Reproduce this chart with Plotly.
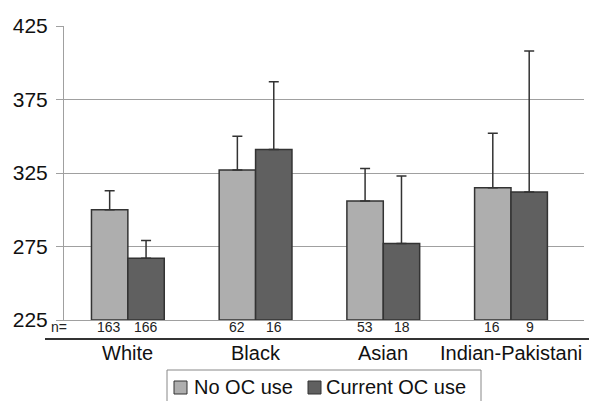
import plotly.graph_objects as go

categories = ["White", "Black", "Asian", "Indian-Pakistani"]
no_oc = [300, 327, 306, 315]
no_oc_err = [13, 23, 22, 37]
cur_oc = [267, 341, 277, 312]
cur_oc_err = [12, 46, 46, 96]
n_no_oc = ["163", "62", "53", "16"]
n_cur_oc = ["166", "16", "18", "9"]
y_ticks = [225, 275, 325, 375, 425]
series_names = ["No OC use", "Current OC use"]
series_colors = ["#aeaeae", "#606060"]

W, H = 589, 401
L, R, T, B = 64, 5, 26, 81
PW, PH = W - L - R, H - T - B

def px(x):
    return (x - L) / PW

def py(y):
    return (H - B - y) / PH

FONT = "Liberation Sans, Arial, sans-serif"

fig = go.Figure()
for name, vals, errs, col in [(series_names[0], no_oc, no_oc_err, series_colors[0]),
                              (series_names[1], cur_oc, cur_oc_err, series_colors[1])]:
    fig.add_trace(go.Bar(
        x=categories, y=[v - 225 for v in vals], base=225, name=name,
        marker=dict(color=col, line=dict(color="#333333", width=1.5)),
        error_y=dict(type="data", symmetric=False, array=errs,
                     arrayminus=[0] * len(errs), color="#333333",
                     thickness=1.5, width=5),
        showlegend=False,
    ))

bargap = 0.43
group_w = PW / len(categories)
bar_w = group_w * (1 - bargap) / 2

def ann(x, y, text, size, xref="paper", xshift=0, xanchor="center", color="#111"):
    return dict(x=x, y=y, xref=xref, yref="paper", text=text, showarrow=False,
                xshift=xshift, xanchor=xanchor, yanchor="middle",
                font=dict(size=size, color=color, family=FONT))

annotations = []
for i, c in enumerate(categories):
    annotations.append(ann(c, py(327), n_no_oc[i], 14, xref="x", xshift=-bar_w / 2, color="#222"))
    annotations.append(ann(c, py(327), n_cur_oc[i], 14, xref="x", xshift=bar_w / 2, color="#222"))
    annotations.append(ann(c, py(353), c, 20, xref="x"))
annotations.append(ann(px(59), py(327), "n=", 14, color="#222"))
annotations.append(ann(px(192), py(387), series_names[0], 20, xanchor="left"))
annotations.append(ann(px(324), py(387), series_names[1], 20, xanchor="left"))

shapes = [
    dict(type="line", xref="paper", yref="paper", x0=px(45), x1=px(589), y0=py(339), y1=py(339),
         line=dict(color="#333333", width=2)),
    dict(type="rect", xref="paper", yref="paper", x0=px(167), x1=px(481), y0=py(370), y1=py(405),
         line=dict(color="#888888", width=1), fillcolor="rgba(0,0,0,0)"),
    dict(type="rect", xref="paper", yref="paper", x0=px(174), x1=px(187), y0=py(381), y1=py(394),
         line=dict(color="#333333", width=1), fillcolor=series_colors[0]),
    dict(type="rect", xref="paper", yref="paper", x0=px(308), x1=px(321), y0=py(381), y1=py(394),
         line=dict(color="#333333", width=1), fillcolor=series_colors[1]),
]

fig.update_layout(
    width=W, height=H, margin=dict(l=L, r=R, t=T, b=B),
    paper_bgcolor="white", plot_bgcolor="white",
    barmode="group", bargap=bargap, bargroupgap=0,
    font=dict(family=FONT, color="#111"),
    xaxis=dict(showticklabels=False, ticks="", showgrid=False, showline=True,
               linecolor="#a0a0a0", linewidth=1),
    yaxis=dict(range=[225, 425], tickvals=y_ticks, ticks="outside", ticklen=7,
               tickcolor="#a0a0a0", tickwidth=1, showgrid=True,
               gridcolor="#a0a0a0", gridwidth=1, showline=True, linecolor="#a0a0a0",
               linewidth=1, zeroline=False, ticklabelstandoff=4,
               tickfont=dict(size=21, color="#111", family=FONT)),
    annotations=annotations, shapes=shapes,
)
fig.write_html("out.html")
